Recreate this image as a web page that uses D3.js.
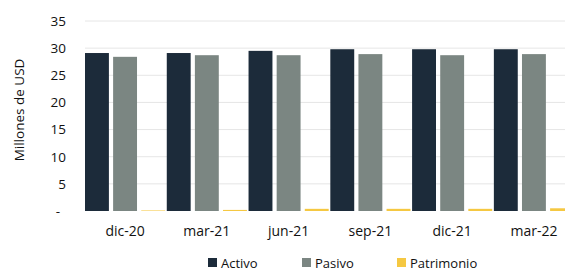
<html>
  <head>
    <script src="https://d3js.org/d3.v7.min.js"></script>
    <style type="text/css">
      body { margin: 0; background: #fff; }
      text { font-family: "Open Sans", Arial, sans-serif; fill: #111; }
    </style>
  </head>
  <body>
    <svg id="chart" width="565" height="271"></svg>
  </body>
  <script type="text/javascript">

    var periods = ["dic-20", "mar-21", "jun-21", "sep-21", "dic-21", "mar-22"];
    var activo = [29.1, 29.1, 29.5, 29.8, 29.8, 29.8];
    var pasivo = [28.4, 28.7, 28.7, 28.9, 28.7, 28.9];
    var patrimonio = [0.1, 0.2, 0.4, 0.4, 0.4, 0.5];
    var seriesNames = ["Activo", "Pasivo", "Patrimonio"];
    var seriesColors = ["#1c2b3a", "#7b8682", "#f5c842"];
    var yTicks = [0, 5, 10, 15, 20, 25, 30, 35];

    var svg = d3.select("#chart");

    var x = d3.scaleBand()
      .domain(periods)
      .range([85, 574])
      .paddingInner(0.02)
      .paddingOuter(0);

    var inner = d3.scaleBand()
      .domain(seriesNames)
      .range([0, x.bandwidth()])
      .paddingInner(0.15);

    var y = d3.scaleLinear()
      .domain([0, 35])
      .range([211, 21]);

    // gridlines
    svg.append("g").selectAll("line")
      .data(yTicks.slice(1))
      .enter().append("line")
      .attr("x1", 85).attr("x2", 565)
      .attr("y1", function(d) { return y(d); })
      .attr("y2", function(d) { return y(d); })
      .attr("stroke", "#e6e6e6")
      .attr("stroke-width", 1);

    var yAxis = d3.axisLeft(y)
      .tickValues(yTicks)
      .tickSize(0)
      .tickPadding(0)
      .tickFormat(function(d) { return d === 0 ? "-" : d; });

    var ya = svg.append("g")
      .attr("transform", "translate(66,0)")
      .call(yAxis);
    ya.select(".domain").remove();
    ya.selectAll("text")
      .style("font-size", "13.5px")
      .style("font-family", "'Open Sans', Arial, sans-serif")
      .attr("fill", "#111");
    // zero label sits a little further left in the original
    ya.selectAll("text").filter(function(d) { return d === 0; })
      .attr("x", -6);

    svg.append("text")
      .attr("transform", "translate(24,110) rotate(-90)")
      .attr("text-anchor", "middle")
      .style("font-size", "13.5px")
      .text("Millones de USD");

    var data = periods.map(function(p, i) {
      return { period: p, values: [activo[i], pasivo[i], patrimonio[i]] };
    });

    var groups = svg.append("g").selectAll("g")
      .data(data)
      .enter().append("g")
      .attr("transform", function(d) { return "translate(" + x(d.period) + ",0)"; });

    groups.selectAll("rect")
      .data(function(d) {
        return d.values.map(function(v, j) { return { name: seriesNames[j], value: v, color: seriesColors[j] }; });
      })
      .enter().append("rect")
      .attr("x", function(d) { return inner(d.name); })
      .attr("width", inner.bandwidth())
      .attr("y", function(d) { return y(d.value); })
      .attr("height", function(d) { return y(0) - y(d.value); })
      .attr("fill", function(d) { return d.color; });

    var xAxis = d3.axisBottom(x).tickSize(0).tickPadding(0);
    var xa = svg.append("g")
      .attr("transform", "translate(0,226)")
      .call(xAxis);
    xa.select(".domain").remove();
    xa.selectAll("text")
      .style("font-size", "14px")
      .style("font-family", "'Open Sans', Arial, sans-serif")
      .attr("fill", "#111");

    // legend
    var legendX = [208, 302, 397];
    var legend = svg.append("g").selectAll("g")
      .data(seriesNames)
      .enter().append("g")
      .attr("transform", function(d, i) { return "translate(" + legendX[i] + ",263)"; });

    legend.append("rect")
      .attr("x", 0).attr("y", -5)
      .attr("width", 9).attr("height", 9)
      .attr("fill", function(d, i) { return seriesColors[i]; });

    legend.append("text")
      .attr("x", 13)
      .attr("dy", "0.35em")
      .style("font-size", "13px")
      .text(function(d) { return d; });

  </script>
</html>
